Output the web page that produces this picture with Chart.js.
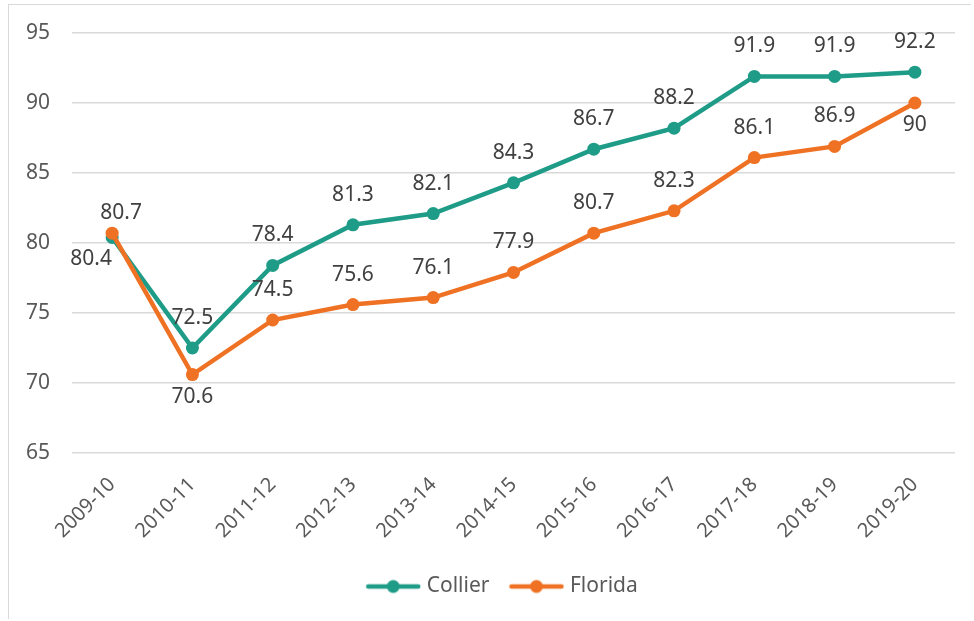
<!DOCTYPE html>
<html>
<head>
<meta charset="utf-8">
<script src="https://cdn.jsdelivr.net/npm/chart.js@4.4.1/dist/chart.umd.min.js"></script>
<style>
  body { margin: 0; background: #fff; }
  #frame {
    position: absolute; left: 8px; top: 4px;
    width: 962px; height: 614px;
    border: 1px solid #d9d9d9; border-right: none; border-bottom: none;
  }
</style>
</head>
<body>
<div id="frame"><canvas id="gradChart" width="962" height="614"></canvas></div>
<script>
// data
const years = ["2009-10", "2010-11", "2011-12", "2012-13", "2013-14", "2014-15",
               "2015-16", "2016-17", "2017-18", "2018-19", "2019-20"];
const collier = [80.4, 72.5, 78.4, 81.3, 82.1, 84.3, 86.7, 88.2, 91.9, 91.9, 92.2];
const florida = [80.7, 70.6, 74.5, 75.6, 76.1, 77.9, 80.7, 82.3, 86.1, 86.9, 90];
const yTicks = [65, 70, 75, 80, 85, 90, 95];

const teal = '#1f9c88';
const orange = '#ef7224';
const fontFamily = '"Noto Sans", sans-serif';

// where each value label sits (1 = above the point, -1 = below)
const collierSide = [-1, 1, 1, 1, 1, 1, 1, 1, 1, 1, 1];
const floridaSide = [1, -1, 1, 1, 1, 1, 1, 1, 1, 1, -1];

// little line+dot swatch for the legend
function swatch(color) {
  const c = document.createElement('canvas');
  c.width = 56; c.height = 16;
  const x = c.getContext('2d');
  x.strokeStyle = color;
  x.lineWidth = 4.5;
  x.lineCap = 'round';
  x.beginPath(); x.moveTo(3, 8); x.lineTo(53, 8); x.stroke();
  x.fillStyle = color;
  x.beginPath(); x.arc(28, 8, 6.5, 0, Math.PI * 2); x.fill();
  return c;
}

const valueLabels = {
  id: 'valueLabels',
  afterLayout(chart) {
    // nudge legend a bit right, like the original
    chart.legend.left += 22;
    chart.legend.right += 22;
  },
  afterDatasetsDraw(chart) {
    const ctx = chart.ctx;
    ctx.save();
    ctx.font = '21px ' + fontFamily;
    ctx.fillStyle = '#404040';
    ctx.textAlign = 'center';
    ctx.textBaseline = 'middle';
    chart.data.datasets.forEach((ds, i) => {
      const meta = chart.getDatasetMeta(i);
      meta.data.forEach((pt, j) => {
        const side = ds.labelSide[j];
        let dx = 0;
        let dy = side > 0 ? -30 : 22;
        // first point: the two labels are pushed apart
        if (i === 0 && j === 0) dx = -21;
        if (i === 1 && j === 0) { dx = 9; dy = -20; }
        ctx.fillText(String(ds.data[j]), pt.x + dx, pt.y + dy);
      });
    });
    ctx.restore();
  }
};

new Chart(document.getElementById('gradChart'), {
  type: 'line',
  data: {
    labels: years,
    datasets: [
      {
        label: 'Collier',
        data: collier,
        labelSide: collierSide,
        borderColor: teal,
        backgroundColor: teal,
        borderWidth: 4.5,
        pointRadius: 6.5,
        pointHoverRadius: 6.5,
        pointBorderWidth: 0,
        tension: 0
      },
      {
        label: 'Florida',
        data: florida,
        labelSide: floridaSide,
        borderColor: orange,
        backgroundColor: orange,
        borderWidth: 4.5,
        pointRadius: 6.5,
        pointHoverRadius: 6.5,
        pointBorderWidth: 0,
        tension: 0,
        order: -1
      }
    ]
  },
  options: {
    responsive: false,
    animation: false,
    layout: { padding: { top: 28, right: 16, left: 0, bottom: 12 } },
    scales: {
      x: {
        offset: true,
        grid: { display: false },
        border: { display: false },
        ticks: {
          color: '#595959',
          font: { size: 20, family: fontFamily },
          minRotation: 45,
          maxRotation: 45,
          padding: 12
        },
        afterFit(scale) { scale.height = 99; }
      },
      y: {
        min: 65,
        max: 95,
        border: { display: false },
        grid: { color: '#d9d9d9', lineWidth: 1.5, drawTicks: false },
        afterBuildTicks(scale) { scale.ticks = yTicks.map(v => ({ value: v })); },
        ticks: {
          color: '#595959',
          font: { size: 21, family: fontFamily },
          padding: 22
        },
        afterFit(scale) {
          scale.width = 63;
          scale.paddingTop = 0;
          scale.paddingBottom = 0;
        }
      }
    },
    plugins: {
      tooltip: { enabled: false },
      legend: {
        position: 'bottom',
        labels: {
          usePointStyle: true,
          pointStyleWidth: 46,
          padding: 24,
          color: '#595959',
          font: { size: 21, family: fontFamily },
          sort: (a, b) => a.datasetIndex - b.datasetIndex,
          generateLabels(chart) {
            const items = Chart.defaults.plugins.legend.labels.generateLabels(chart);
            items.forEach(it => {
              it.pointStyle = swatch(chart.data.datasets[it.datasetIndex].borderColor);
            });
            return items;
          }
        }
      }
    }
  },
  plugins: [valueLabels]
});
</script>
</body>
</html>
